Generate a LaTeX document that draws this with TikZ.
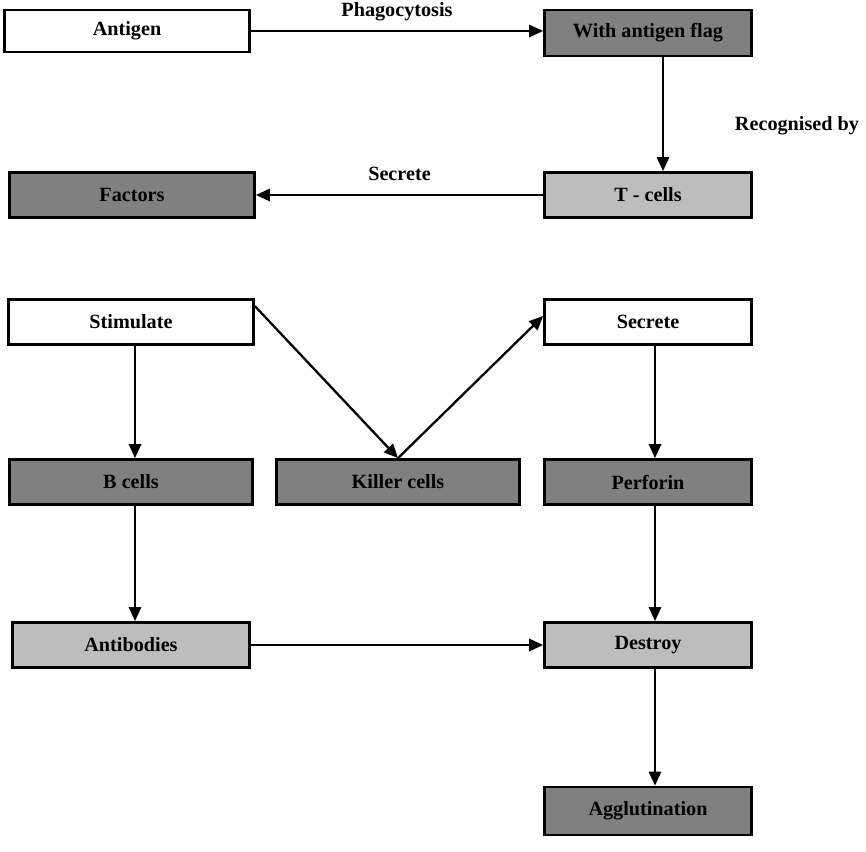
\documentclass[tikz,border=0pt]{standalone}
\usepackage{fontspec}
\setmainfont{Liberation Serif}
\usetikzlibrary{arrows.meta}
\tikzset{
	>={Triangle[length=8pt,width=7pt]},
	every node/.style={font=\fontsize{11.5}{13}\selectfont\bfseries},
}
\definecolor{darkbox}{gray}{0.5}
\definecolor{lightbox}{gray}{0.74}

\begin{document}
\begin{tikzpicture}[
            x=0.02cm, y=-0.02cm,
            box/.style={draw, line width=1.6pt, minimum height=0.9cm, inner sep=2pt},
            wide/.style={box, minimum width=4.9cm},
            narrow/.style={box, minimum width=4.14cm},
            dark/.style={fill=darkbox},
            light/.style={fill=lightbox},
            link/.style={->, line width=1.3pt}
        ]
        \useasboundingbox (0,0) rectangle (866,852);
        \node[wide, minimum height=0.84cm] (antigen) at (127,31) {Antigen};
        \node[narrow, dark, minimum height=0.92cm] (flag) at (648,33) {With antigen flag};
        \node[wide, dark] (factors) at (132,195) {Factors};
        \node[narrow, light] (tcells) at (648,195) {T - cells};
        \node[wide] (stim) at (131,322) {Stimulate};
        \node[narrow] (secrete) at (648,322) {Secrete};
        \node[box, dark, minimum width=4.86cm] (bcells) at (131,482) {B cells};
        \node[box, dark, minimum width=4.86cm] (killer) at (398,482) {Killer cells};
        \node[narrow, dark] (perforin) at (648,482) {Perforin};
        \node[box, light, minimum width=4.74cm] (antibodies) at (131,645) {Antibodies};
        \node[narrow, light] (destroy) at (648,645) {Destroy};
        \node[narrow, dark, minimum height=0.96cm] (agglu) at (648,811) {Agglutination};

        \draw[link] (antigen.east) -- (antigen.east -| flag.west)
            node[midway, above=2pt] (phago) {Phagocytosis};
        \draw[link] ([xshift=0.3cm]flag.south) -- ([xshift=0.3cm]tcells.north)
            node[pos=0.6, right=1.3cm] (recog) {Recognised by};
        \draw[link] (tcells.west) -- (factors.east)
            node[midway, above=4pt] (secr) {Secrete};
        \draw[link] ([xshift=0.08cm]stim.south) -- ([xshift=0.08cm]bcells.north);
        \draw[link] ([yshift=-0.16cm]stim.north east) -- (killer.north);
        \draw[link] (killer.north) -- ([yshift=0.12cm]secrete.west);
        \draw[link] ([xshift=0.14cm]secrete.south) -- ([xshift=0.14cm]perforin.north);
        \draw[link] ([xshift=0.08cm]bcells.south) -- ([xshift=0.08cm]antibodies.north);
        \draw[link] (antibodies.east) -- (destroy.west);
        \draw[link] ([xshift=0.14cm]perforin.south) -- ([xshift=0.14cm]destroy.north);
        \draw[link] ([xshift=0.14cm]destroy.south) -- ([xshift=0.14cm]agglu.north);
    \end{tikzpicture}
\end{document}
